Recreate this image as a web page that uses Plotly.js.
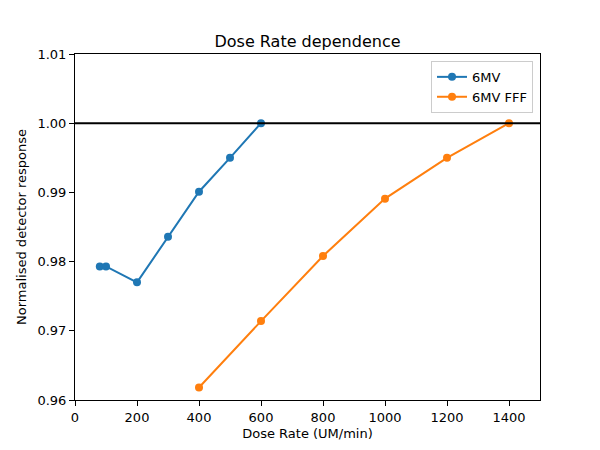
<!DOCTYPE html>
<html>
<head>
<meta charset="utf-8">
<script src="https://cdn.plot.ly/plotly-3.0.1.min.js"></script>
<style>
  body { margin: 0; background: #fff; }
  #chart { width: 600px; height: 450px; }
</style>
</head>
<body>
<div id="chart"></div>
<script>
// values
const doseRate6MV = [80, 100, 200, 300, 400, 500, 600];
const response6MV = [0.9793, 0.9793, 0.9770, 0.9836, 0.9901, 0.9950, 1.0000];
const doseRateFFF = [400, 600, 800, 1000, 1200, 1400];
const responseFFF = [0.9618, 0.9714, 0.9808, 0.9891, 0.9950, 1.0000];
const xTicks = [0, 200, 400, 600, 800, 1000, 1200, 1400];
const yTicks = [0.96, 0.97, 0.98, 0.99, 1.00, 1.01];

const fontFamily = "DejaVu Sans, sans-serif";

function lineTrace(x, y, name, colour) {
    return {
        x: x,
        y: y,
        name: name,
        type: 'scatter',
        mode: 'lines+markers',
        line: {color: colour, width: 2},
        marker: {color: colour, size: 8}
    };
}

var data = [
    lineTrace(doseRate6MV, response6MV, '6MV', '#1f77b4'),
    lineTrace(doseRateFFF, responseFFF, '6MV FFF', '#ff7f0e')
];

// axis style shared by both axes (matplotlib-like box)
function axisStyle(extra) {
    return Object.assign({
        showgrid: false,
        zeroline: false,
        showline: true,
        mirror: true,
        linecolor: '#000',
        linewidth: 1,
        ticks: 'outside',
        ticklen: 5,
        tickcolor: '#000',
        tickfont: {family: fontFamily, size: 13, color: '#000'}
    }, extra);
}

const layout = {
    width: 600,
    height: 450,
    margin: {l: 75, r: 60, t: 54, b: 50},
    paper_bgcolor: '#fff',
    plot_bgcolor: '#fff',
    font: {family: fontFamily, color: '#000'},
    title: {
        text: 'Dose Rate dependence',
        font: {family: fontFamily, size: 16, color: '#000'},
        x: 0.5125, xanchor: 'center',
        y: 0.895, yanchor: 'bottom'
    },
    xaxis: axisStyle({
        range: [0, 1500],
        tickvals: xTicks,
        ticktext: xTicks.map(String),
        title: {text: 'Dose Rate (UM/min)', font: {family: fontFamily, size: 13}, standoff: 5}
    }),
    yaxis: axisStyle({
        range: [0.96, 1.01],
        tickvals: yTicks,
        ticktext: yTicks.map(v => v.toFixed(2)),
        title: {text: 'Normalised detector response', font: {family: fontFamily, size: 13}, standoff: 7}
    }),
    shapes: [{
        type: 'line',
        xref: 'paper', x0: 0, x1: 1,
        yref: 'y', y0: 1.0, y1: 1.0,
        line: {color: '#000', width: 2}
    }],
    showlegend: true,
    legend: {
        x: 0.985, y: 0.98,
        xanchor: 'right', yanchor: 'top',
        bgcolor: 'rgba(255,255,255,0.8)',
        bordercolor: '#cccccc',
        borderwidth: 1,
        itemwidth: 30,
        tracegroupgap: 0,
        font: {family: fontFamily, size: 13, color: '#000'}
    }
};

Plotly.newPlot('chart', data, layout, {staticPlot: true});
</script>
</body>
</html>
